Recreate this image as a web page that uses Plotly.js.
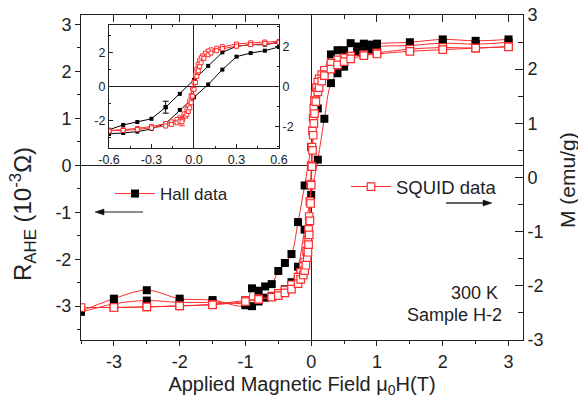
<!DOCTYPE html>
<html><head><meta charset="utf-8">
<script src="https://cdn.plot.ly/plotly-3.0.1.min.js"></script>
<style>html,body{margin:0;padding:0;background:#fff}#chart{width:578px;height:405px}</style>
</head><body><div id="chart"></div>
<script>
// Hall data (R_AHE, 10^-3 Ohm) — descending and ascending field branches
const hallDownH = [3, 2.5, 2, 1.5, 1, 0.9, 0.8, 0.7, 0.6, 0.5, 0.4, 0.3, 0.2, 0.1, 0, -0.1, -0.2, -0.3, -0.4, -0.5, -0.6, -0.7, -0.8, -0.9, -1, -1.5, -2, -2.5, -3, -3.5];
const hallDownR = [2.68, 2.65, 2.68, 2.62, 2.59, 2.57, 2.59, 2.53, 2.60, 2.45, 2.45, 2.36, 2.0, 1.21, 0.39, -0.43, -1.21, -1.89, -2.08, -2.25, -2.53, -2.58, -2.67, -2.62, -2.98, -2.87, -2.84, -2.66, -2.84, -3.12];
const hallUpH = [-3.5, -3, -2.5, -2, -1.5, -1, -0.9, -0.8, -0.7, -0.6, -0.5, -0.4, -0.3, -0.2, -0.1, 0, 0.1, 0.2, 0.3, 0.4, 0.5, 0.6, 0.7, 0.8, 0.9, 1, 1.5, 2, 2.5, 3];
const hallUpR = [-3.12, -2.95, -2.88, -2.92, -2.92, -2.96, -3.0, -2.9, -2.82, -2.78, -2.72, -2.64, -2.49, -2.16, -1.37, -0.63, 0.12, 0.99, 1.75, 1.96, 2.10, 2.32, 2.41, 2.43, 2.45, 2.52, 2.55, 2.60, 2.58, 2.62];

// SQUID data (M, emu/g)
const squidDownH = [3, 2.5, 2, 1.5, 1, 0.8, 0.6, 0.5, 0.4, 0.3, 0.2, 0.16, 0.12, 0.1, 0.08, 0.06, 0.05, 0.04, 0.03, 0.02, 0.01, 0, -0.01, -0.02, -0.03, -0.04, -0.05, -0.07, -0.1, -0.12, -0.16, -0.2, -0.3, -0.4, -0.5, -0.6, -0.8, -1, -1.5, -2, -2.5, -3, -3.5];
const squidDownM = [2.42, 2.39, 2.40, 2.37, 2.30, 2.27, 2.24, 2.21, 2.17, 2.11, 1.98, 1.90, 1.82, 1.76, 1.66, 1.52, 1.42, 1.28, 1.10, 0.86, 0.56, 0.22, -0.12, -0.44, -0.72, -0.96, -1.14, -1.36, -1.56, -1.64, -1.75, -1.84, -1.98, -2.08, -2.14, -2.20, -2.24, -2.27, -2.34, -2.37, -2.39, -2.40, -2.40];
const squidUpH = [-3.5, -3, -2.5, -2, -1.5, -1, -0.8, -0.6, -0.5, -0.4, -0.3, -0.2, -0.16, -0.12, -0.1, -0.08, -0.06, -0.05, -0.04, -0.03, -0.02, -0.01, 0, 0.01, 0.02, 0.03, 0.04, 0.05, 0.07, 0.1, 0.12, 0.16, 0.2, 0.3, 0.4, 0.5, 0.6, 0.8, 1, 1.5, 2, 2.5, 3];
const squidUpM = [-2.40, -2.40, -2.39, -2.37, -2.35, -2.29, -2.25, -2.21, -2.18, -2.13, -2.06, -1.96, -1.88, -1.80, -1.72, -1.62, -1.48, -1.38, -1.24, -1.06, -0.80, -0.48, -0.14, 0.20, 0.50, 0.78, 1.00, 1.18, 1.40, 1.58, 1.66, 1.78, 1.88, 2.00, 2.08, 2.14, 2.19, 2.25, 2.28, 2.33, 2.36, 2.39, 2.41];

// Inset error bars
const insetHallErrH = [-0.2];
const insetHallErrR = [-1.21];
const insetHallErr = [0.35];
const insetSquidErrH = [-0.085];
const insetSquidErrM = [-1.75];
const insetSquidErr = [0.2];

// Tick labels
const xTickVals = [-3, -2, -1, 0, 1, 2, 3];
const xTickText = ['-3', '-2', '-1', '0', '1', '2', '3'];
const yTickVals = [-3, -2, -1, 0, 1, 2, 3];
const yTickText = ['-3', '-2', '-1', '0', '1', '2', '3'];
const insetXTickVals = [-0.6, -0.3, 0, 0.3, 0.6];
const insetXTickText = ['-0.6', '-0.3', '0.0', '0.3', '0.6'];
const insetYTickVals = [-2, 0, 2];
const insetYTickText = ['-2', '0', '2'];

const RED = '#ff2a2a';
const INK = '#222222';
const FONT = 'Liberation Sans, Arial, sans-serif';

// plot-area geometry (pixels) for placing decorations
const W = 578, H = 405, ML = 81, MR = 55, MT = 15, MB = 65;
const PW = W - ML - MR, PH = H - MT - MB;
const px = v => (v - ML) / PW;
const py = v => (H - MB - v) / PH;

const hallH = hallDownH.concat(hallUpH.slice(1));
const hallR = hallDownR.concat(hallUpR.slice(1));
const squidH = squidDownH.concat(squidUpH.slice(1));
const squidM = squidDownM.concat(squidUpM.slice(1));

const traces = [
  {x: hallH, y: hallR, xaxis: 'x2', yaxis: 'y', showlegend: false, hoverinfo: 'skip', mode: 'markers', marker: {opacity: 0}},
  {x: hallH, y: hallR, xaxis: 'x', yaxis: 'y', name: 'Hall data', legend: 'legend',
   mode: 'lines+markers', line: {color: RED, width: 1, shape: 'spline', smoothing: 1},
   marker: {symbol: 'square', size: 8, color: '#000'}},
  {x: squidH, y: squidM, xaxis: 'x', yaxis: 'y2', name: 'SQUID data', legend: 'legend2',
   mode: 'lines+markers', line: {color: RED, width: 1, shape: 'spline', smoothing: 1},
   marker: {symbol: 'square', size: 7.5, color: '#fff', line: {color: RED, width: 1.2}}},
  // inset
  {x: hallH, y: hallR, xaxis: 'x3', yaxis: 'y3', showlegend: false, mode: 'lines+markers',
   line: {color: '#000', width: 1}, marker: {symbol: 'square', size: 4, color: '#000'}},
  {x: insetHallErrH, y: insetHallErrR, xaxis: 'x3', yaxis: 'y3', showlegend: false, mode: 'markers',
   marker: {symbol: 'square', size: 4, color: '#000'},
   error_y: {type: 'data', array: insetHallErr, color: '#000', thickness: 1, width: 3}},
  {x: squidH, y: squidM, xaxis: 'x3', yaxis: 'y4', showlegend: false, mode: 'lines+markers',
   line: {color: RED, width: 1}, marker: {symbol: 'square', size: 4, color: '#fff', line: {color: RED, width: 1}}},
  {x: insetSquidErrH, y: insetSquidErrM, xaxis: 'x3', yaxis: 'y4', showlegend: false, mode: 'markers',
   marker: {symbol: 'square', size: 4, color: '#fff', line: {color: RED, width: 1}},
   error_y: {type: 'data', array: insetSquidErr, color: RED, thickness: 1, width: 3}}
];

const axBase = {showgrid: false, linecolor: INK, linewidth: 1, tickcolor: INK, tickwidth: 1, showline: true};

function arrowShapes(xTip, xTail, y, lineColor) {
  const dir = xTail > xTip ? 1 : -1;
  const hx = xTip + dir * 9;
  return [
    {type: 'line', xref: 'paper', yref: 'paper', x0: px(hx), x1: px(xTail), y0: py(y), y1: py(y),
     line: {color: lineColor, width: 1.3}},
    {type: 'path', xref: 'paper', yref: 'paper',
     path: 'M ' + px(xTip) + ' ' + py(y) + ' L ' + px(hx) + ' ' + py(y - 3) + ' L ' + px(hx) + ' ' + py(y + 3) + ' Z',
     fillcolor: '#111', line: {color: '#111', width: 0.5}}
  ];
}

const layout = {
  width: W, height: H,
  margin: {l: ML, r: MR, t: MT, b: MB, pad: 0},
  paper_bgcolor: '#fff', plot_bgcolor: 'rgba(0,0,0,0)',
  font: {family: FONT, color: INK, size: 18},
  showlegend: true,
  xaxis: Object.assign({}, axBase, {
    domain: [0, 1], anchor: 'y', range: [-3.5, 3.22],
    tickmode: 'array', tickvals: xTickVals, ticktext: xTickText,
    ticks: 'outside', ticklen: 5,
    minor: {tickmode: 'linear', tick0: 0, dtick: 0.5, ticks: 'outside', ticklen: 3, tickcolor: INK},
    zeroline: true, zerolinecolor: INK, zerolinewidth: 1,
    tickfont: {size: 18},
    title: {text: 'Applied Magnetic Field \u03bc<sub>0</sub>H(T)', font: {size: 20}, standoff: 6}
  }),
  xaxis2: Object.assign({}, axBase, {
    overlaying: 'x', side: 'top', anchor: 'y', range: [-3.5, 3.22],
    tickmode: 'array', tickvals: xTickVals, ticks: 'inside', ticklen: 7,
    minor: {tickmode: 'linear', tick0: 0, dtick: 0.5, ticks: 'inside', ticklen: 4, tickcolor: INK},
    showticklabels: false, zeroline: false
  }),
  yaxis: Object.assign({}, axBase, {
    domain: [0, 1], anchor: 'x', range: [-3.72, 3.2],
    tickmode: 'array', tickvals: yTickVals, ticktext: yTickText,
    ticks: 'outside', ticklen: 5,
    minor: {tickmode: 'linear', tick0: 0, dtick: 0.5, ticks: 'outside', ticklen: 3, tickcolor: INK},
    zeroline: true, zerolinecolor: INK, zerolinewidth: 1,
    tickfont: {size: 18}
  }),
  yaxis2: Object.assign({}, axBase, {
    overlaying: 'y', side: 'right', anchor: 'x', range: [-3, 3],
    tickmode: 'array', tickvals: yTickVals, ticktext: yTickText,
    ticks: 'inside', ticklen: 8,
    minor: {tickmode: 'linear', tick0: 0, dtick: 0.5, ticks: 'inside', ticklen: 5, tickcolor: INK},
    zeroline: false, tickfont: {size: 18}
  }),
  xaxis3: Object.assign({}, axBase, {
    domain: [0.0633, 0.448], anchor: 'y3', range: [-0.6, 0.6],
    tickmode: 'array', tickvals: insetXTickVals, ticktext: insetXTickText,
    ticks: 'inside', ticklen: 4, mirror: 'ticks',
    minor: {tickmode: 'linear', tick0: 0, dtick: 0.15, ticks: 'inside', ticklen: 2, tickcolor: INK},
    zeroline: true, zerolinecolor: INK, zerolinewidth: 1,
    tickfont: {size: 12.5}
  }),
  yaxis3: Object.assign({}, axBase, {
    domain: [0.5908, 0.969], anchor: 'x3', range: [-3.6, 3.6],
    tickmode: 'array', tickvals: insetYTickVals, ticktext: insetYTickText,
    ticks: 'inside', ticklen: 4,
    minor: {tickmode: 'linear', tick0: 0, dtick: 1, ticks: 'inside', ticklen: 2, tickcolor: INK},
    zeroline: true, zerolinecolor: INK, zerolinewidth: 1,
    tickfont: {size: 12.5}
  }),
  yaxis4: Object.assign({}, axBase, {
    overlaying: 'y3', side: 'right', anchor: 'x3', range: [-3.05, 3.05],
    tickmode: 'array', tickvals: insetYTickVals, ticktext: insetYTickText,
    ticks: 'inside', ticklen: 4,
    minor: {tickmode: 'linear', tick0: 0, dtick: 1, ticks: 'inside', ticklen: 2, tickcolor: INK},
    zeroline: false, tickfont: {size: 12.5}
  }),
  legend: {x: px(110), y: py(194), xanchor: 'left', yanchor: 'middle', bgcolor: 'rgba(0,0,0,0)',
           font: {size: 17}, borderwidth: 0, itemwidth: 40},
  legend2: {x: px(346), y: py(187), xanchor: 'left', yanchor: 'middle', bgcolor: 'rgba(0,0,0,0)',
            font: {size: 18.5}, borderwidth: 0, itemwidth: 40},
  shapes: [].concat(arrowShapes(95, 143, 212, '#666'), arrowShapes(492, 446, 203, '#333')),
  annotations: [
    {text: 'R<sub>AHE</sub> (10<sup>-3</sup>\u03a9)', textangle: -90, xref: 'paper', yref: 'paper',
     x: px(23), y: py(214), xanchor: 'center', yanchor: 'middle', showarrow: false, font: {size: 24}},
    {text: 'M (emu/g)', textangle: -90, xref: 'paper', yref: 'paper',
     x: px(567), y: py(180), xanchor: 'center', yanchor: 'middle', showarrow: false, font: {size: 21}},
    {text: '300 K', xref: 'paper', yref: 'paper', x: px(500), y: py(293), xanchor: 'right', yanchor: 'middle',
     showarrow: false, font: {size: 18}},
    {text: 'Sample H-2', xref: 'paper', yref: 'paper', x: px(504), y: py(315), xanchor: 'right', yanchor: 'middle',
     showarrow: false, font: {size: 18}}
  ]
};

Plotly.newPlot('chart', traces, layout, {displayModeBar: false, staticPlot: true});
</script></body></html>
